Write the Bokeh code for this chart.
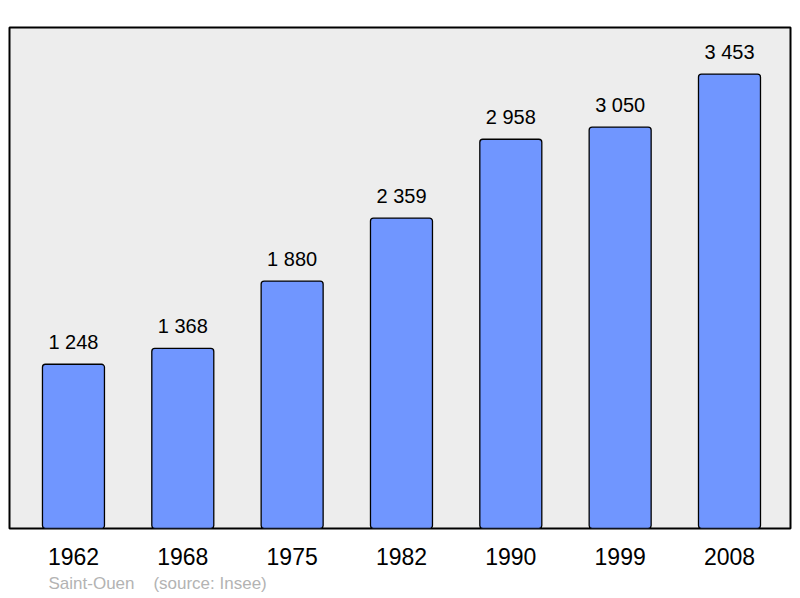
from bokeh.plotting import figure
from bokeh.models import Range1d, FixedTicker, ColumnDataSource, Title
from bokeh.core.properties import value
from bokeh.embed import file_html
from bokeh.resources import INLINE

years = ["1962", "1968", "1975", "1982", "1990", "1999", "2008"]
population = [1248, 1368, 1880, 2359, 2958, 3050, 3453]
labels = ["1 248", "1 368", "1 880", "2 359", "2 958", "3 050", "3 453"]
footer = "Saint-Ouen\u00a0\u00a0\u00a0\u00a0(source: Insee)"

xs = list(range(len(years)))
src = ColumnDataSource(dict(x=xs, pop=population, lab=labels))

p = figure(width=792, height=598, output_backend="svg", toolbar_location=None,
           x_range=Range1d(-0.585, 6.558), y_range=Range1d(0, 3807),
           min_border_left=9, min_border_right=2, min_border_top=27, min_border_bottom=70)

p.background_fill_color = "#ededed"
p.border_fill_color = "white"
p.outline_line_color = "black"
p.outline_line_width = 2
p.xgrid.visible = False
p.ygrid.visible = False
p.yaxis.visible = False

p.vbar(x="x", top="pop", width=0.567, bottom=0, source=src,
       fill_color="#7096ff", line_color="black", line_width=1.3, border_radius=3)

p.text(x="x", y="pop", text="lab", source=src, text_align="center",
       text_baseline="alphabetic", y_offset=-22,
       text_font=value("Liberation Sans"), text_font_size="20px", text_color="black")

ax = p.xaxis[0]
ax.ticker = FixedTicker(ticks=xs)
ax.major_label_overrides = {i: y for i, y in zip(xs, years)}
ax.axis_line_color = None
ax.major_tick_line_color = None
ax.minor_tick_line_color = None
ax.major_tick_in = 0
ax.major_tick_out = 0
ax.major_label_standoff = 19
ax.major_label_text_font = "Liberation Sans"
ax.major_label_text_font_size = "23px"
ax.major_label_text_color = "black"

foot = Title(text=footer, align="left", offset=39, standoff=8,
             text_font="Liberation Sans", text_font_size="17px",
             text_font_style="normal", text_color="#b3b3b3")
p.add_layout(foot, "below")

open("out.html", "w").write(file_html(p, INLINE))
